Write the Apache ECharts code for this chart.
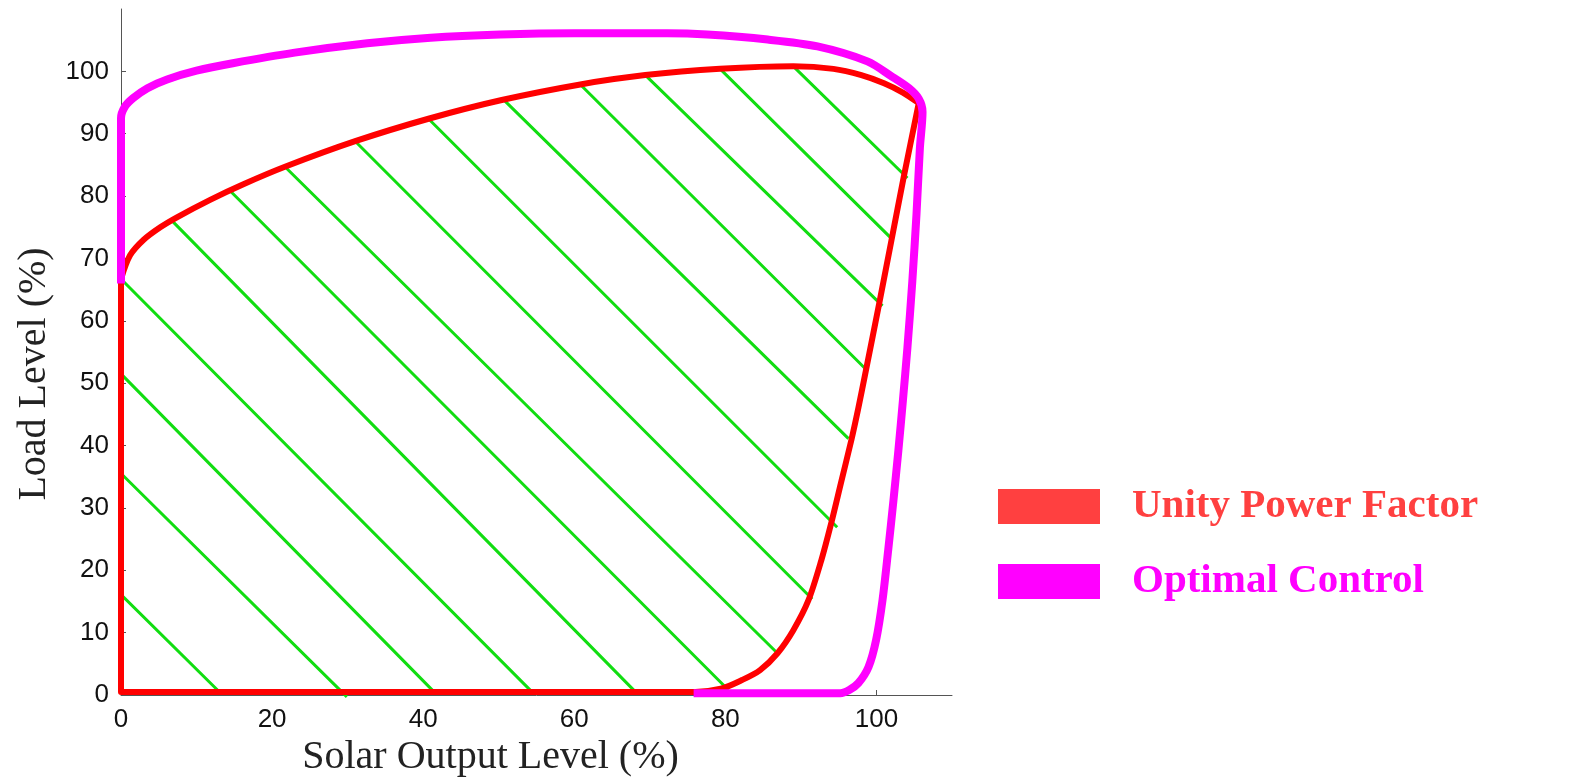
<!DOCTYPE html>
<html>
<head>
<meta charset="utf-8">
<script src="https://cdn.jsdelivr.net/npm/echarts@6/dist/echarts.min.js"></script>
<style>
html,body{margin:0;padding:0;background:#fff;}
#chart{width:1593px;height:777px;}
</style>
</head>
<body>
<div id="chart"></div>
<script>
// ---- data ----
const xTickLabels = [0, 20, 40, 60, 80, 100];
const yTickLabels = [0, 10, 20, 30, 40, 50, 60, 70, 80, 90, 100];

// Unity Power Factor boundary, in three pieces (left edge, upper edge, right + bottom edge)
const unityLeftX = [0, 0];
const unityLeftY = [0.5, 66.7];
const unityTopX = [0, 1.2, 3, 5.2, 7.4, 11.8, 16.2, 21.7, 31, 40.7, 50.4, 60.8, 69.4, 79.3, 89, 94.3, 98, 101, 103.5, 105.6];
const unityTopY = [66.7, 70.5, 73, 75, 76.6, 79.4, 81.9, 84.7, 88.8, 92.4, 95.4, 97.9, 99.4, 100.4, 100.8, 100.4, 99.4, 98.1, 96.6, 94.9];
const unityRightX = [105.6, 103.6, 102, 100.4, 98.6, 97.6, 96.7, 95.3, 94, 92.7, 91, 89, 86.9, 84.6, 82.2, 79.4, 76, 0];
const unityRightY = [94.9, 83, 73, 63, 52, 46, 41, 34, 27.5, 21.6, 15.2, 10.4, 6.7, 4, 2.4, 1, 0.5, 0.5];

// Optimal Control boundary
const optimalX = [0, 0, 0.5, 1.6, 3.5, 6.1, 10, 14.8, 23, 32.6, 41, 50.2, 60, 72.3, 77.6, 85.6, 92.2, 98.8, 102, 104.3, 105.6,
  106.1, 105.75, 105.3, 104.75, 104.1, 103.5, 102.9, 102.25, 101.55, 100.8, 99.95, 98.95, 97.6, 96.4, 95.2, 85, 75.8];
const optimalY = [66, 92.5, 94.3, 95.7, 97.3, 98.7, 100.1, 101.3, 103, 104.5, 105.4, 105.9, 106.1, 106.1, 105.9, 105.1, 104, 101.6, 99.2, 97.3, 95.6,
  93.5, 87.7, 77.1, 66.4, 55.7, 47.2, 39.2, 31.2, 23.2, 15.2, 8.8, 4.5, 1.9, 0.8, 0.3, 0.3, 0.3];

// Hatch segments (start / end)
const hatchX1 = [-1, -0.4, 0, 0, 6.7, 14.4, 21.7, 31, 40.7, 50.6, 60.8, 69.4, 79.3, 89];
const hatchY1 = [17.3, 36, 51.5, 66.7, 76.1, 80.9, 84.7, 88.8, 92.4, 95.5, 97.9, 99.4, 100.4, 100.8];
const hatchX2 = [13.1, 29.9, 41.6, 54.4, 68.1, 80.4, 86.9, 91.5, 94.8, 96.3, 98.8, 100.8, 101.9, 104.1];
const hatchY2 = [0.4, -0.3, 0.3, 0.5, 0.5, 0.8, 6.7, 15.4, 26.9, 41.1, 52, 62.4, 73.3, 82.9];

// ---- build ----
const zip = (xs, ys) => xs.map((x, i) => [x, ys[i]]);
const joinPieces = (...pieces) => {
  const out = [];
  pieces.forEach((p, k) => { if (k) out.push(null); out.push(...p); });
  return out;
};
const hatchData = [];
hatchX1.forEach((x, i) => {
  hatchData.push([x, hatchY1[i]]);
  hatchData.push([hatchX2[i], hatchY2[i]]);
  hatchData.push(null);
});
const unityData = joinPieces(zip(unityLeftX, unityLeftY), zip(unityTopX, unityTopY), zip(unityRightX, unityRightY));

const tickFont = {fontFamily: 'Liberation Sans', fontSize: 26, color: '#111'};
const nameFont = {fontFamily: 'Liberation Serif', fontSize: 40, color: '#222'};

const chart = echarts.init(document.getElementById('chart'));
chart.setOption({
  animation: false,
  backgroundColor: '#fff',
  grid: {left: 121, right: 641, top: 9, bottom: 82, outerBoundsMode: 'none', containLabel: false},
  xAxis: {
    type: 'value', min: 0, max: 110, interval: 20,
    name: 'Solar Output Level (%)', nameLocation: 'middle', nameGap: 40,
    nameTextStyle: Object.assign({padding: [0, 92, 0, 0]}, nameFont),
    axisLine: {lineStyle: {color: '#555', width: 1}},
    axisTick: {inside: true, length: 5, lineStyle: {color: '#555'}, customValues: xTickLabels},
    axisLabel: Object.assign({margin: 12, customValues: xTickLabels}, tickFont),
    splitLine: {show: false}
  },
  yAxis: {
    type: 'value', min: 0, max: 110, interval: 10,
    name: 'Load Level (%)', nameLocation: 'middle', nameGap: 66, nameRotate: 90,
    nameTextStyle: Object.assign({padding: [0, 44, 0, 0]}, nameFont),
    axisLine: {show: true, lineStyle: {color: '#555', width: 1}},
    axisTick: {show: true, inside: true, length: 5, lineStyle: {color: '#555'}, customValues: yTickLabels},
    axisLabel: Object.assign({margin: 12, customValues: yTickLabels}, tickFont),
    splitLine: {show: false}
  },
  legend: {
    orient: 'vertical', left: 993, top: 481,
    icon: 'rect', itemWidth: 102, itemHeight: 35, itemGap: 34,
    selectedMode: false,
    textStyle: {fontFamily: 'Liberation Serif', fontWeight: 'bold', fontSize: 41, lineHeight: 35, padding: [0, 0, 0, 27]},
    data: [
      {name: 'Unity Power Factor', itemStyle: {color: '#ff4040'}, textStyle: {color: '#ff4040'}},
      {name: 'Optimal Control', itemStyle: {color: '#ff00ff'}, textStyle: {color: '#ff00ff'}}
    ]
  },
  series: [
    {
      name: 'hatch', type: 'line', data: hatchData, connectNulls: false,
      showSymbol: false, symbol: 'none', clip: false,
      lineStyle: {color: '#11dd11', width: 3}, z: 2
    },
    {
      name: 'Unity Power Factor', type: 'line', data: unityData, connectNulls: false,
      showSymbol: false, symbol: 'none', clip: false, smooth: 0.3,
      itemStyle: {color: '#ff0000'},
      lineStyle: {color: '#ff0000', width: 6, join: 'round', cap: 'round'}, z: 3
    },
    {
      name: 'Optimal Control', type: 'line', data: zip(optimalX, optimalY),
      showSymbol: false, symbol: 'none', clip: false, smooth: 0.3,
      itemStyle: {color: '#ff00ff'},
      lineStyle: {color: '#ff00ff', width: 8, join: 'round', cap: 'butt'}, z: 4
    }
  ]
});
</script>
</body>
</html>
